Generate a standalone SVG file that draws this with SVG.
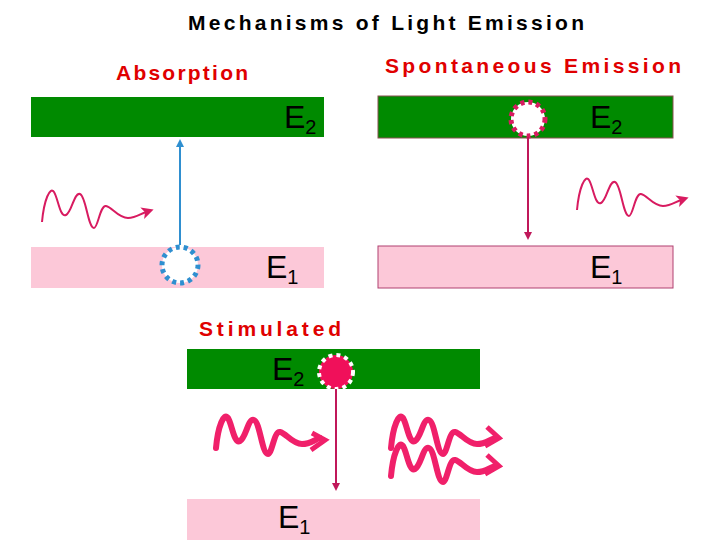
<svg xmlns="http://www.w3.org/2000/svg" width="720" height="540" viewBox="0 0 720 540">
<style>
.t{font-family:"Liberation Sans",Arial,sans-serif;font-weight:bold;font-size:21px}
.r{fill:#e00000}
.e{font-family:"Liberation Sans",Arial,sans-serif;font-size:32px;fill:#000}
.s{font-size:20px}
.g{fill:#008a00}
.p{fill:#fcc8d8}
.w{fill:none;stroke:#d81b60;stroke-width:2}
.wt{fill:none;stroke:#f0206a;stroke-width:6;stroke-linecap:round}
</style>
<defs>
<marker id="ab" markerWidth="8" markerHeight="8" refX="4" refY="4" orient="auto" markerUnits="userSpaceOnUse"><path d="M0,0L8,4L0,8z" fill="#2f8fd0"/></marker>
<marker id="am" markerWidth="8" markerHeight="8" refX="4" refY="4" orient="auto" markerUnits="userSpaceOnUse"><path d="M0,0L8,4L0,8z" fill="#c0185a"/></marker>
<marker id="aw" markerWidth="12" markerHeight="12" refX="4" refY="6" orient="auto" markerUnits="userSpaceOnUse"><path d="M0,0L12,6L0,12L3,6z" fill="#d81b60"/></marker>
<path id="wave" d="M0,10 C2,-12 8,-26 12,-20 C16,-14 18,6 24,3 C30,0 32,-20 38,-18 C44,-16 46,16 52,16 C56,16 58,-7 64,-6 C70,-5 76,6 86,6 C94,6 98,2 104,0"/>
</defs>
<text class="t" x="188" y="30" textLength="396" lengthAdjust="spacing">Mechanisms of Light Emission</text>
<g id="absorption">
<text class="t r" x="116" y="80" textLength="132" lengthAdjust="spacing">Absorption</text>
<rect class="g" x="31" y="97" width="293" height="40"/>
<rect class="p" x="31" y="247" width="293" height="41"/>
<text class="e" x="284" y="128">E<tspan class="s" dy="6">2</tspan></text>
<text class="e" x="266" y="278">E<tspan class="s" dy="6">1</tspan></text>
<circle cx="180" cy="265" r="18" fill="#fff" stroke="#2f8fd0" stroke-width="5" stroke-dasharray="4 4"/>
<use href="#wave" x="42" y="212" class="w" marker-end="url(#aw)"/>
</g>
<g id="spontaneous">
<text class="t r" x="385" y="73" textLength="296" lengthAdjust="spacing">Spontaneous Emission</text>
<rect class="g" x="378" y="96" width="295" height="42" stroke="#8a5050" stroke-width="1"/>
<rect class="p" x="378" y="246" width="295" height="42" stroke="#b04070" stroke-width="1"/>
<text class="e" x="590" y="128">E<tspan class="s" dy="6">2</tspan></text>
<text class="e" x="590" y="278">E<tspan class="s" dy="6">1</tspan></text>
<circle cx="528" cy="119" r="17" fill="#fff" stroke="#d81b60" stroke-width="5" stroke-dasharray="4 4"/>
<use href="#wave" x="577" y="200" class="w" marker-end="url(#aw)"/>
</g>
<g id="stimulated">
<text class="t r" x="199" y="336" textLength="142" lengthAdjust="spacing">Stimulated</text>
<rect class="g" x="187" y="349" width="293" height="40"/>
<rect class="p" x="187" y="499" width="293" height="41"/>
<text class="e" x="272" y="380">E<tspan class="s" dy="6">2</tspan></text>
<text class="e" x="278" y="528">E<tspan class="s" dy="6">1</tspan></text>
<circle cx="336" cy="372" r="17" fill="#f0105a" stroke="#fff" stroke-width="4" stroke-dasharray="4 4"/>
<use href="#wave" x="216" y="438" class="wt"/>
<use href="#wave" x="391" y="438" class="wt"/>
<use href="#wave" x="391" y="466" class="wt"/>
<path d="M312,433L325,440L311,450M487,427L499,438L485,446M487,455L499,466L485,474" fill="none" stroke="#f0206a" stroke-width="5" stroke-linejoin="miter"/>
</g>
<g id="connectors">
<line x1="180" y1="245" x2="180" y2="143" stroke="#2f8fd0" stroke-width="2" marker-end="url(#ab)"/>
<line x1="528" y1="137" x2="528" y2="236" stroke="#c0185a" stroke-width="2" marker-end="url(#am)"/>
<line x1="336" y1="389" x2="336" y2="487" stroke="#c0185a" stroke-width="2" marker-end="url(#am)"/>
</g>
</svg>
